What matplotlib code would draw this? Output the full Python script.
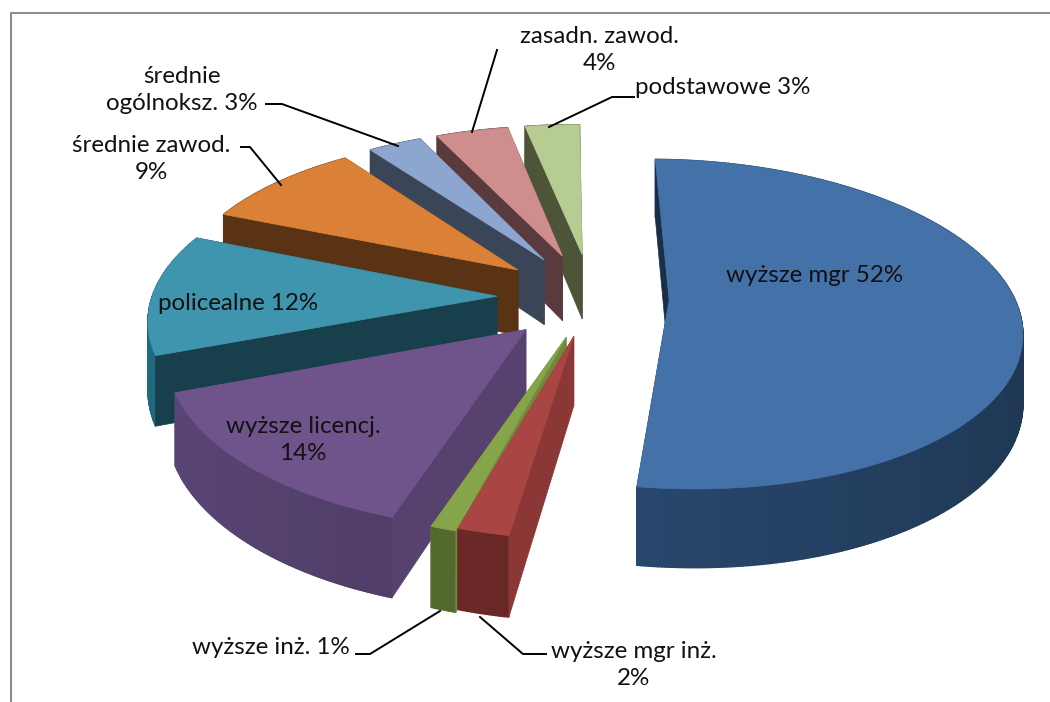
import numpy as np
import matplotlib
matplotlib.use("Agg")
import matplotlib.pyplot as plt

# values of the slices, clockwise from the top
labels = ["wyższe mgr", "wyższe mgr inż.", "wyższe inż.", "wyższe licencj.", "policealne",
          "średnie zawod.", "średnie ogólnoksz.", "zasadn. zawod.", "podstawowe"]
values = [52, 2, 1, 14, 12, 9, 3, 4, 3]
top_colors = ["#4472a8", "#a94543", "#86a44a", "#6f548c", "#3f95ae", "#da8137", "#8ca6d0", "#cf8e8e", "#b7cc93"]
side_colors = ["#2f5480", "#7a2e2c", "#5f7733", "#5a4676", "#1f6a80", "#6a3c18", "#3a4557", "#5a3a3c", "#4d5438"]
face_colors = ["#1a2e47", "#8b3735", "#6f8a3c", "#57426f", "#173f4c", "#5a3214", "#3a4557", "#5a3a3c", "#4d5438"]

# pie geometry, in pixels of the picture
R = 345
explode = [77, 84, 88, 95, 95, 95, 95, 95, 95]
turn = [0, 2, 1, 0, 0, 0, 0, 0, 0]
PX, PY = 592, 297
VX = 520
TILT = 0.465
K = 0.000425
H = 67
START = 1


def project(X, Y, Z=0):
    s = 1 / (1 + K * Y)
    return VX + (PX - VX + X) * s, PY - TILT * Y * s + Z * H * s


fig = plt.figure(figsize=(10.5, 7.02), dpi=100)
ax = fig.add_axes([0, 0, 1, 1])
ax.set_xlim(0, 1050)
ax.set_ylim(702, 0)
ax.axis("off")

# frame, only left and top show
ax.plot([10.5, 10.5, 1050], [702, 12.5, 12.5], color="#8c8c8c", lw=1.5)

edges = START + np.cumsum([0] + values) * 3.6

# back slices first, big one is apart on the right
for i in [0, 8, 7, 6, 5, 4, 3, 2, 1]:
    a0, a1 = np.radians(edges[i] + turn[i]), np.radians(edges[i + 1] + turn[i])
    mid = (a0 + a1) / 2
    ox, oy = explode[i] * np.sin(mid), explode[i] * np.cos(mid)
    th = np.linspace(a0, a1, max(8, int(values[i] * 6)))
    rx, ry = ox + R * np.sin(th), oy + R * np.cos(th)

    # a cut face shows only if the wedge lies above its top edge
    ax0, ay0 = project(ox, oy)
    mx, my = project(ox + R * np.sin(mid), oy + R * np.cos(mid))
    hidden, shown = [], []
    for a in [a0, a1]:
        ex, ey = ox + R * np.sin(a), oy + R * np.cos(a)
        px1, py1 = project(ex, ey)
        side = (px1 - ax0) * (my - ay0) - (py1 - ay0) * (mx - ax0)
        pts = [project(ox, oy), project(ex, ey), project(ex, ey, 1), project(ox, oy, 1)]
        (hidden if side * (px1 - ax0) > 0 else shown).append(pts)

    for pts in hidden:
        ax.fill(*zip(*pts), color=face_colors[i], lw=0.5)

    # rim, shaded piece by piece
    base = np.array(matplotlib.colors.to_rgb(side_colors[i]))
    for j in range(len(th) - 1):
        shade = 1.0 - 0.35 * (np.sin(th[j]) + 1) / 2
        pts = [project(rx[j], ry[j]), project(rx[j + 1], ry[j + 1]),
               project(rx[j + 1], ry[j + 1], 1), project(rx[j], ry[j], 1)]
        ax.fill(*zip(*pts), color=tuple(base * shade), lw=1)

    for pts in shown:
        ax.fill(*zip(*pts), color=face_colors[i], lw=0.5)

    # top
    tx, ty = project(np.r_[ox, rx], np.r_[oy, ry])
    ax.fill(tx, ty, color=top_colors[i], lw=0.5)

font = dict(family="Lato", fontsize=17.4, color="#111111", ha="center", va="center", linespacing=1.36)
ax.text(815, 275, f"{labels[0]} {values[0]}%", **font)
ax.text(634, 665, f"{labels[1]}\n{values[1]}%", **font)
ax.text(271, 648, f"{labels[2]} {values[2]}%", **font)
ax.text(303, 440, f"{labels[3]}\n{values[3]}%", **font)
ax.text(238, 304, f"{labels[4]} {values[4]}%", **font)
ax.text(151, 159, f"{labels[5]}\n{values[5]}%", **font)
ax.text(182, 90, "średnie\nogólnoksz. 3%", **font)
ax.text(599, 50, f"{labels[7]}\n{values[7]}%", **font)
ax.text(723, 88, f"{labels[8]} {values[8]}%", **font)

# leader lines
leaders = [([546, 523, 480], [654, 654, 617]),
           ([356, 370, 440], [654, 654, 611]),
           ([241, 250, 281], [147, 147, 185]),
           ([266, 282, 398], [104, 104, 146]),
           ([497, 472], [50, 132]),
           ([634, 612, 549], [97, 97, 127])]
for lx, ly in leaders:
    ax.plot(lx, ly, color="black", lw=1.4)

fig.savefig("out.png", dpi=100)
